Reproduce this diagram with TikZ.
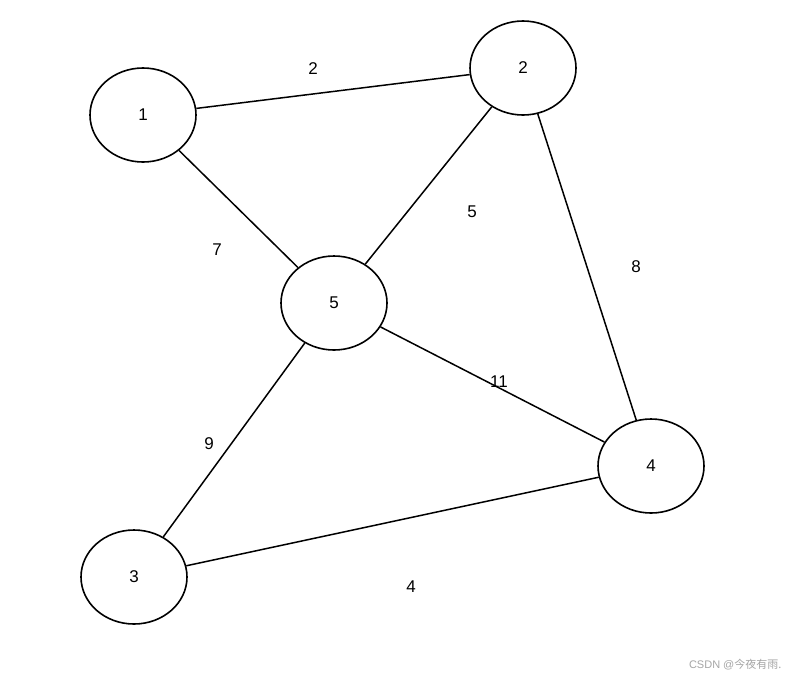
\documentclass[tikz,border=0pt]{standalone}
\usepackage{fontspec}
\setmainfont{Liberation Sans}
\newfontfamily\cjk{Noto Sans CJK SC}
\usetikzlibrary{shapes.geometric}
\begin{document}
\begin{tikzpicture}[x=1pt,y=-1pt,
  vert/.style={draw,line width=1.6pt,ellipse,minimum width=106pt,minimum height=94pt,inner sep=0pt,font=\fontsize{17}{17}\selectfont},
  edge/.style={line width=1.5pt},
  wt/.style={font=\fontsize{17}{17}\selectfont}]
\useasboundingbox[fill=white] (0,0) rectangle (791,681);
\node[vert] (n1) at (143,115) {1};
\node[vert] (n2) at (523,68) {2};
\node[vert] (n5) at (334,303) {5};
\node[vert] (n4) at (651,466) {4};
\node[vert] (n3) at (134,577) {3};
\draw[edge] (n1) -- (n2);
\draw[edge] (n1) -- (n5);
\draw[edge] (n2) -- (n5);
\draw[edge] (n2) -- (n4);
\draw[edge] (n5) -- (n4);
\draw[edge] (n5) -- (n3);
\draw[edge] (n3) -- (n4);
\node[wt] (w12) at (313,69) {2};
\node[wt] (w15) at (217,250) {7};
\node[wt] (w25) at (472,212) {5};
\node[wt] (w24) at (636,267) {8};
\node[wt] (w54) at (499,382) {11};
\node[wt] (w53) at (209,444) {9};
\node[wt] (w34) at (411,587) {4};
\node[text=gray!70,font=\fontsize{11}{11}\selectfont,anchor=east] (wm) at (785,665) {CSDN @{\cjk 今夜有雨.}};
\end{tikzpicture}
\end{document}
